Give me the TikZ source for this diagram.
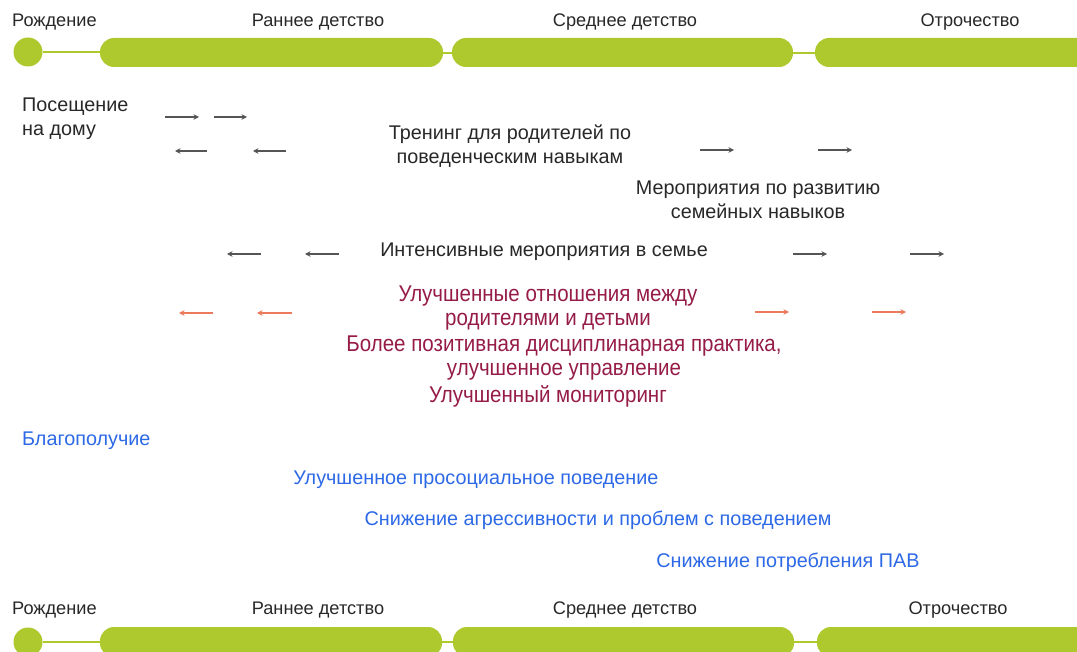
\documentclass[tikz,border=0pt]{standalone}
\usepackage{fontspec}
\setmainfont{Liberation Sans}
\newfontfamily\narrowfont{Liberation Sans}[FakeStretch=0.9]
\usetikzlibrary{arrows.meta}
\definecolor{tlgreen}{RGB}{174,201,46}
\definecolor{txtgray}{RGB}{40,40,40}
\definecolor{arrgray}{RGB}{85,85,85}
\definecolor{pinktxt}{RGB}{150,28,72}
\definecolor{orarr}{RGB}{236,122,92}
\definecolor{bluetxt}{RGB}{45,105,230}
\tikzset{
  lbl/.style={inner sep=0pt, font=\fontsize{19.8}{24}\selectfont, text=txtgray, align=center},
  tllbl/.style={lbl, font=\fontsize{18.2}{22}\selectfont},
  pinklbl/.style={lbl, text=pinktxt, font=\narrowfont\fontsize{22.8}{24}\selectfont},
  bluelbl/.style={lbl, text=bluetxt},
  dot/.style={circle, fill=tlgreen, minimum size=29pt, inner sep=0pt},
  bar/.style={rounded corners=14pt, fill=tlgreen, minimum height=29pt, inner sep=0pt},
  link/.style={draw=tlgreen, line width=2.5pt},
  garr/.style={draw=arrgray, line width=1.8pt, -{Stealth[length=5.5pt,width=5.5pt]}},
  oarr/.style={draw=orarr, line width=1.8pt, -{Stealth[length=5.5pt,width=5.5pt]}}
}
\begin{document}
\begin{tikzpicture}[x=1pt,y=-1pt]
\useasboundingbox[fill=white] (0,0) rectangle (1077,652);
% ---- top timeline
\node[tllbl, anchor=west] (tb) at (12,22) {Рождение};
\node[tllbl] (te) at (318,22) {Раннее детство};
\node[tllbl] (tm) at (625,22) {Среднее детство};
\node[tllbl] (ta) at (970,22) {Отрочество};
\node[dot] (c1) at (28,52) {};
\path[bar] (100,38) rectangle (443,67);
\path[bar] (452,38) rectangle (793,67);
\path[bar] (815,38) rectangle (1100,67);
\coordinate (b1l) at (101,52);
\coordinate (b1r) at (442,53);
\coordinate (b2l) at (453,53);
\coordinate (b2r) at (792,53);
\coordinate (b3l) at (816,53);
\draw[link] (c1) -- (b1l);
\draw[draw=tlgreen, line width=1.2pt] (b1r) -- (b2l);
\draw[draw=tlgreen, line width=1.2pt] (b2r) -- (b3l);
% ---- bottom timeline
\node[tllbl, anchor=west] (bb) at (12,610) {Рождение};
\node[tllbl] (be) at (318,610) {Раннее детство};
\node[tllbl] (bm) at (625,610) {Среднее детство};
\node[tllbl] (ba) at (958,610) {Отрочество};
\node[dot] (c2) at (28,642) {};
\path[bar] (100,627) rectangle (442,657);
\path[bar] (453,627) rectangle (794,657);
\path[bar] (817,627) rectangle (1100,657);
\coordinate (d1l) at (101,642);
\coordinate (d1r) at (441,642);
\coordinate (d2l) at (454,642);
\coordinate (d2r) at (793,642);
\coordinate (d3l) at (818,642);
\draw[link] (c2) -- (d1l);
\draw[draw=tlgreen, line width=1.2pt] (d1r) -- (d2l);
\draw[draw=tlgreen, line width=1.2pt] (d2r) -- (d3l);
% ---- interventions
\node[lbl, anchor=west, align=left] (home) at (22,119) {Посещение\\на дому};
\coordinate (h1a) at (165,117); \coordinate (h1b) at (199,117);
\coordinate (h2a) at (214,117); \coordinate (h2b) at (247,117);
\draw[garr] (h1a) -- (h1b);
\draw[garr] (h2a) -- (h2b);
\coordinate (h3a) at (207,151); \coordinate (h3b) at (175,151);
\coordinate (h4a) at (286,151); \coordinate (h4b) at (253,151);
\draw[garr] (h3a) -- (h3b);
\draw[garr] (h4a) -- (h4b);
\node[lbl] (train) at (510,146) {Тренинг для родителей по\\поведенческим навыкам};
\coordinate (t1a) at (700,150); \coordinate (t1b) at (734,150);
\coordinate (t2a) at (818,150); \coordinate (t2b) at (852,150);
\draw[garr] (t1a) -- (t1b);
\draw[garr] (t2a) -- (t2b);
\node[lbl] (fam) at (758,200) {Мероприятия по развитию\\семейных навыков};
\node[lbl] (int) at (544,252) {Интенсивные мероприятия в семье};
\coordinate (i1a) at (261,254); \coordinate (i1b) at (227,254);
\coordinate (i2a) at (339,254); \coordinate (i2b) at (305,254);
\draw[garr] (i1a) -- (i1b);
\draw[garr] (i2a) -- (i2b);
\coordinate (i3a) at (793,254); \coordinate (i3b) at (827,254);
\coordinate (i4a) at (910,254); \coordinate (i4b) at (944,254);
\draw[garr] (i3a) -- (i3b);
\draw[garr] (i4a) -- (i4b);
% ---- parent outcomes
\node[pinklbl] (rel) at (548,308) {Улучшенные отношения между\\родителями и детьми};
\coordinate (o1a) at (213,313); \coordinate (o1b) at (179,313);
\coordinate (o2a) at (292,313); \coordinate (o2b) at (257,313);
\draw[oarr] (o1a) -- (o1b);
\draw[oarr] (o2a) -- (o2b);
\coordinate (o3a) at (755,312); \coordinate (o3b) at (789,312);
\coordinate (o4a) at (872,312); \coordinate (o4b) at (906,312);
\draw[oarr] (o3a) -- (o3b);
\draw[oarr] (o4a) -- (o4b);
\node[pinklbl] (disc) at (564,358) {Более позитивная дисциплинарная практика,\\улучшенное управление};
\node[pinklbl] (mon) at (548,396) {Улучшенный мониторинг};
% ---- child outcomes
\node[bluelbl, anchor=west] (well) at (22,441) {Благополучие};
\node[bluelbl] (pro) at (476,480) {Улучшенное просоциальное поведение};
\node[bluelbl] (agg) at (598,520) {Снижение агрессивности и проблем с поведением};
\node[bluelbl] (sub) at (788,562) {Снижение потребления ПАВ};
\end{tikzpicture}
\end{document}
